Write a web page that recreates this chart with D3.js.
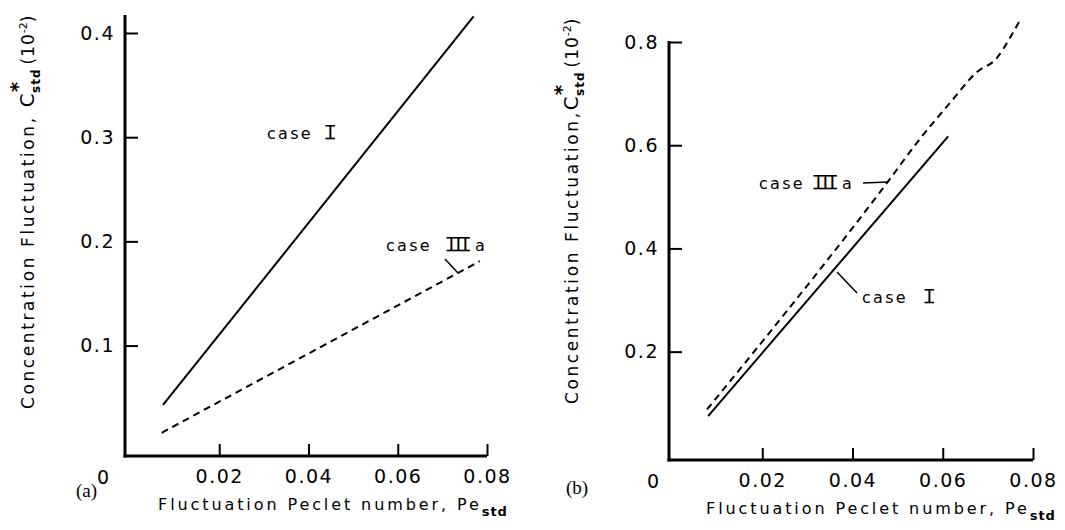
<!DOCTYPE html>
<html><head><meta charset="utf-8">
<script src="https://cdn.jsdelivr.net/npm/d3@7"></script>
<style>
body{margin:0;background:#fff;}
svg text{font-family:"DejaVu Sans",sans-serif;fill:#000;}
</style></head>
<body><svg id="c" width="1065" height="530"></svg>
<script>
const xTicks = [0.02, 0.04, 0.06, 0.08];
const xTickLabels = ["0.02", "0.04", "0.06", "0.08"];
const yTicksA = [0.1, 0.2, 0.3, 0.4];
const yTickLabelsA = ["0.1", "0.2", "0.3", "0.4"];
const yTicksB = [0.2, 0.4, 0.6, 0.8];
const yTickLabelsB = ["0.2", "0.4", "0.6", "0.8"];

// panel (a)
const aCaseI_x = [0.0074, 0.077];
const aCaseI_y = [0.043, 0.416];
const aCaseIIIa_x = [0.0071, 0.0784];
const aCaseIIIa_y = [0.0163, 0.181];
// panel (b)
const bCaseI_x = [0.0080, 0.0612];
const bCaseI_y = [0.075, 0.617];
const bCaseIIIa_x = [0.00776, 0.0195, 0.0479, 0.0543, 0.0616, 0.0676, 0.0720, 0.0749, 0.0771];
const bCaseIIIa_y = [0.088, 0.214, 0.530, 0.605, 0.682, 0.742, 0.769, 0.808, 0.842];

const svg = d3.select("#c");

function romanNumeral(g, x, yBase, txt, fs) {
  const t = g.append("text").attr("x", x).attr("y", yBase).attr("font-size", fs)
    .style("font-family", "'Liberation Serif',serif").attr("letter-spacing", 0.3).text(txt);
  const w = t.node().getComputedTextLength();
  const cap = fs * 0.66;
  [yBase - cap, yBase - 0.5].forEach(yy => {
    g.append("line").attr("x1", x - 1.5).attr("x2", x + w + 1).attr("y1", yy).attr("y2", yy)
      .attr("stroke", "#000").attr("stroke-width", 1.6);
  });
  return w;
}

function panel(cfg) {
  const g = svg.append("g");
  const x = d3.scaleLinear().domain([0, 0.08]).range(cfg.xr);
  const y = d3.scaleLinear().domain(cfg.yd).range(cfg.yr);
  const x0 = cfg.axisX, y0 = cfg.yr[0];

  g.append("line").attr("x1", x0).attr("x2", x0).attr("y1", cfg.yTop).attr("y2", y0 + 1.5)
    .attr("stroke", "#000").attr("stroke-width", 3);
  g.append("line").attr("x1", x0 - 1.5).attr("x2", x(0.08)).attr("y1", y0).attr("y2", y0)
    .attr("stroke", "#000").attr("stroke-width", 3);

  const ya = d3.axisLeft(y).tickValues(cfg.yTicks).tickSize(-13).tickPadding(10)
    .tickFormat((d, i) => cfg.yLabels[i]);
  const gy = g.append("g").attr("transform", `translate(${x0},0)`).call(ya);
  gy.select(".domain").remove();
  gy.selectAll(".tick line").attr("stroke-width", 2);
  gy.selectAll(".tick text").attr("font-size", 19).attr("letter-spacing", 1.5).attr("font-family", "DejaVu Sans");

  const xa = d3.axisBottom(x).tickValues(xTicks).tickSize(-12).tickPadding(14)
    .tickFormat((d, i) => xTickLabels[i]);
  const gx = g.append("g").attr("transform", `translate(0,${y0})`).call(xa);
  gx.select(".domain").remove();
  gx.selectAll(".tick line").attr("stroke-width", 2);
  gx.selectAll(".tick text").attr("font-size", 19).attr("letter-spacing", 1.5).attr("font-family", "DejaVu Sans");

  g.append("text").attr("x", cfg.zeroX).attr("y", y0 + 28).attr("text-anchor", "middle")
    .attr("font-size", 19).text("0");
  g.append("text").attr("x", cfg.tagX).attr("y", cfg.tagY).attr("font-size", 19)
    .style("font-family", "'Liberation Serif',serif").text(cfg.tag);

  const xt = g.append("text").attr("x", cfg.xTitleX).attr("y", y0 + 54).attr("text-anchor", "middle")
    .attr("font-size", 16).attr("letter-spacing", 2.9);
  xt.append("tspan").text("Fluctuation  Peclet  number,  Pe");
  xt.append("tspan").attr("dy", 6).attr("font-size", 13).attr("font-weight", "bold").attr("letter-spacing", 1).text("std");

  const yt = g.append("text").attr("transform", `translate(${cfg.yTitleX},${cfg.yTitleY}) rotate(-90)`)
    .attr("text-anchor", "middle").attr("font-size", 17).attr("letter-spacing", cfg.yTitleLs);
  yt.append("tspan").text(cfg.yTitle1);
  yt.append("tspan").attr("font-size", 20).attr("letter-spacing", 1).text("C");
  yt.append("tspan").attr("dx", 0).attr("dy", -10).attr("font-size", 20).attr("font-weight", "bold").attr("letter-spacing", 0).text("*");
  yt.append("tspan").attr("dx", -11).attr("dy", 16).attr("font-size", 12).attr("font-weight", "bold").attr("letter-spacing", 1).text("std");
  yt.append("tspan").attr("dx", 4).attr("dy", -6).attr("letter-spacing", 1).text("(10");
  yt.append("tspan").attr("dy", -7).attr("font-size", 11).attr("letter-spacing", 0).text("-2");
  yt.append("tspan").attr("dy", 7).text(")");

  const line = d3.line().curve(d3.curveMonotoneX).x(d => x(d[0])).y(d => y(d[1]));
  cfg.series.forEach(s => {
    g.append("path").datum(d3.zip(s.xs, s.ys)).attr("d", line)
      .attr("fill", "none").attr("stroke", "#000").attr("stroke-width", 2)
      .attr("stroke-dasharray", s.dashed ? "7,5" : null);
  });

  cfg.labels.forEach(L => {
    g.append("text").attr("x", L.x).attr("y", L.y).attr("font-size", 16).attr("letter-spacing", 2.3)
      .attr("font-weight", 500).text("case");
    const w = romanNumeral(g, L.nx, L.y, L.num, 20);
    if (L.suffix) g.append("text").attr("x", L.nx + w + 6).attr("y", L.y).attr("font-size", 16).text(L.suffix);
    if (L.lead) {
      g.append("line").attr("x1", L.lead[0]).attr("y1", L.lead[1]).attr("x2", L.lead[2]).attr("y2", L.lead[3])
        .attr("stroke", "#000").attr("stroke-width", 1.5);
    }
  });
}

panel({
  xr: [130, 487], yd: [-0.006, 0.4], yr: [456, 33], axisX: 125, yTop: 15,
  yTicks: yTicksA, yLabels: yTickLabelsA, zeroX: 103, tag: "(a)", tagX: 76, tagY: 497,
  xTitleX: 333, yTitleX: 34, yTitleY: 211, yTitleLs: 2.6,
  yTitle1: "Concentration   Fluctuation,  ",
  series: [
    { xs: aCaseI_x, ys: aCaseI_y, dashed: false },
    { xs: aCaseIIIa_x, ys: aCaseIIIa_y, dashed: true }
  ],
  labels: [
    { x: 267, y: 139, nx: 327, num: "I" },
    { x: 386, y: 251, nx: 448, num: "III", suffix: "a", lead: [445, 259, 458, 273] }
  ]
});

panel({
  xr: [672, 1033], yd: [-0.01, 0.8], yr: [460, 42], axisX: 669, yTop: 41,
  yTicks: yTicksB, yLabels: yTickLabelsB, zeroX: 653, tag: "(b)", tagX: 566, tagY: 494,
  xTitleX: 881, yTitleX: 578, yTitleY: 210, yTitleLs: 2.6,
  yTitle1: "Concentration   Fluctuation,",
  series: [
    { xs: bCaseI_x, ys: bCaseI_y, dashed: false },
    { xs: bCaseIIIa_x, ys: bCaseIIIa_y, dashed: true }
  ],
  labels: [
    { x: 862, y: 303, nx: 926, num: "I", lead: [837, 272, 857, 293] },
    { x: 759, y: 189, nx: 815, num: "III", suffix: "a", lead: [863, 183, 888, 182] }
  ]
});
</script></body></html>
